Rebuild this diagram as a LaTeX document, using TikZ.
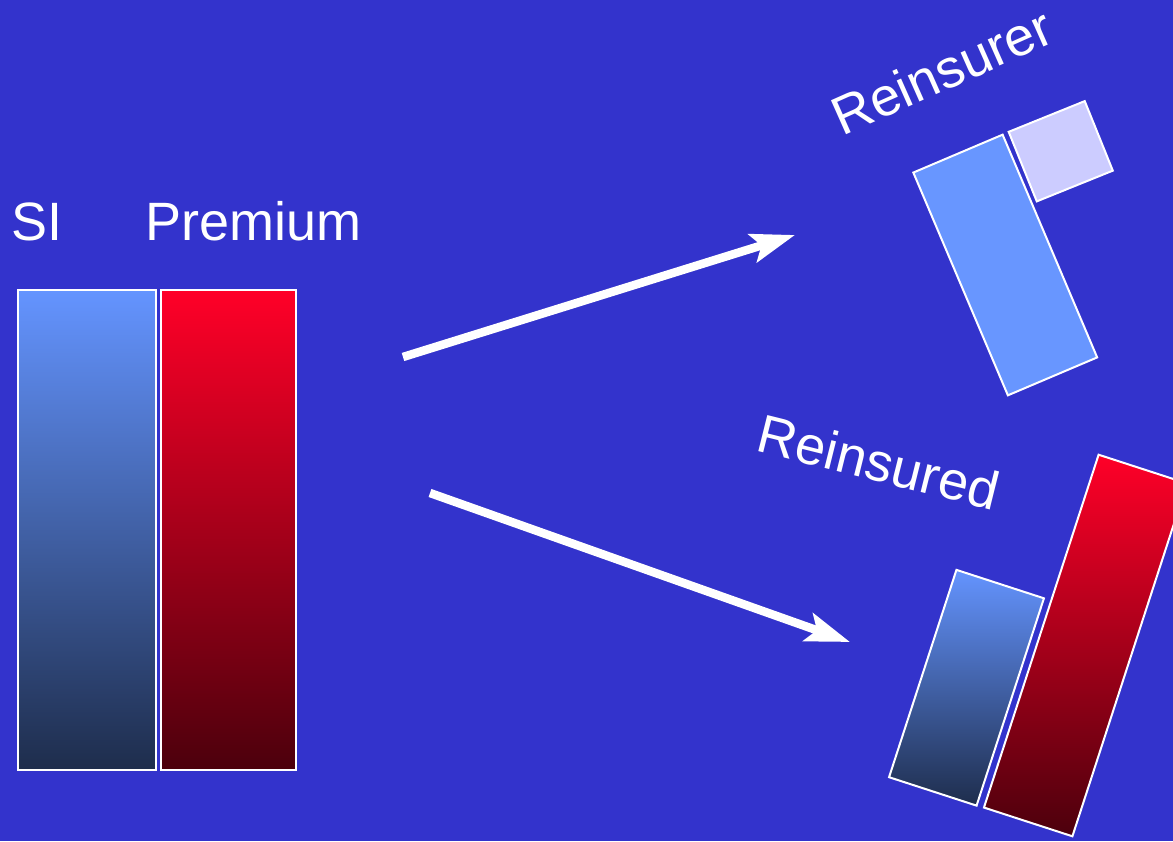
\documentclass[tikz,border=0pt]{standalone}
\usepackage{fontspec}
\setmainfont{Liberation Sans}
\usetikzlibrary{arrows.meta}

\definecolor{slide}{RGB}{51,51,204}
\definecolor{bluetop}{RGB}{100,148,255}
\definecolor{bluemid}{RGB}{74,108,192}
\definecolor{bluebot}{RGB}{30,45,76}
\definecolor{redtop}{RGB}{255,0,40}
\definecolor{redmid}{RGB}{188,0,32}
\definecolor{redbot}{RGB}{76,0,12}
\definecolor{paleblue}{RGB}{104,150,255}
\definecolor{lavender}{RGB}{204,204,255}

\tikzset{
  bar/.style={draw=white, line width=2pt, inner sep=0pt, outer sep=0pt, rectangle},
  sumbar/.style={bar, top color=bluetop, middle color=bluemid, bottom color=bluebot},
  prembar/.style={bar, top color=redtop, middle color=redmid, bottom color=redbot},
  label/.style={text=white, font=\fontsize{54}{64}\selectfont, inner sep=0pt},
  flow/.style={draw=white, line width=8.5pt,
    -{Stealth[length=44pt, width=29pt, inset=9pt]}}
}

\begin{document}
\begin{tikzpicture}[x=1pt, y=1pt]
\useasboundingbox (0,0) rectangle (1173,841);
\clip (0,0) rectangle (1173,841);
\fill[slide] (0,0) rectangle (1173,841);

% original cover: sum insured and premium
\node[sumbar, minimum width=138pt, minimum height=480pt, anchor=south west] (si) at (18,71) {};
\node[prembar, minimum width=135pt, minimum height=480pt, anchor=south west] (prem) at (161,71) {};
\node[label, anchor=base west] (silab) at (11,600) {SI};
\node[label, anchor=base west] (premlab) at (145,600) {Premium};

% flows to the two parties
\coordinate (up0) at (403,484);
\coordinate (up1) at (795,606);
\coordinate (dn0) at (430,348);
\coordinate (dn1) at (850,199);
\draw[flow] (up0) -- (up1);
\draw[flow] (dn0) -- (dn1);

% reinsurer's share
\node[bar, fill=paleblue, rotate=23, minimum width=97pt, minimum height=242pt] (rsi) at (1005.25,576) {};
\node[bar, fill=lavender, rotate=22, minimum width=82pt, minimum height=75pt] (rprem) at (1060.75,689.75) {};
\node[label, rotate=24] (rlab) at (942,770) {Reinsurer};

% retained by the reinsured
\node[sumbar, rotate=-18, minimum width=92pt, minimum height=218pt] (dsi) at (966.5,153.25) {};
\node[prembar, rotate=-18, minimum width=93pt, minimum height=371pt] (dprem) at (1085.5,195.5) {};
\node[label, rotate=-14] (dlab) at (879,379) {Reinsured};
\end{tikzpicture}
\end{document}
